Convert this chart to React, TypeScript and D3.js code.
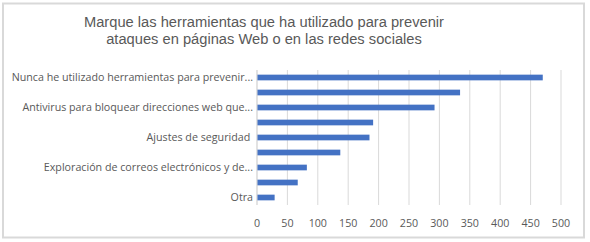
import React from "react";
import * as d3 from "d3";

const categories = [
  "Nunca he utilizado herramientas para prevenir...",
  "Filtros de contenido para navegadores...",
  "Antivirus para bloquear direcciones web que...",
  "Contraseñas seguras",
  "Ajustes de seguridad ",
  "Verificación en dos pasos",
  "Exploración de correos electrónicos y de...",
  "Cortafuegos (firewall)",
  "Otra",
];
const values = [470, 334, 292, 191, 185, 137, 82, 67, 29];
const xTicks = [0, 50, 100, 150, 200, 250, 300, 350, 400, 450, 500];
const titleLines = [
  "Marque las herramientas que ha utilizado para prevenir",
  "ataques en páginas Web o en las redes sociales",
];

const W = 590;
const H = 242;
const margin = { left: 257, right: 29, top: 70, bottom: 37 };

export default function App() {
  const x = d3.scaleLinear().domain([0, 500]).range([margin.left, W - margin.right]);
  const y = d3
    .scaleBand<string>()
    .domain(categories)
    .range([margin.top, H - margin.bottom])
    .paddingInner(0.62)
    .paddingOuter(0.31);
  const labelFont = "'Open Sans', sans-serif";
  return (
    <svg
      width={W}
      height={H}
      style={{ position: "absolute", left: 0, top: 0, background: "#fff" }}
    >
      <rect x={3} y={3.5} width={581} height={234} fill="#fff" stroke="#d9d9d9" strokeWidth={2} />
      {titleLines.map((t, i) => (
        <text
          key={i}
          x={264}
          y={27 + i * 17}
          textAnchor="middle"
          fontFamily="'Liberation Sans', Arial, sans-serif"
          fontSize={14.7}
          fill="#595959"
        >
          {t}
        </text>
      ))}
      {xTicks.map((t) => (
        <g key={t}>
          <line
            x1={x(t)}
            x2={x(t)}
            y1={margin.top}
            y2={H - margin.bottom}
            stroke="#d9d9d9"
            strokeWidth={1}
          />
          <text
            x={x(t)}
            y={227}
            textAnchor="middle"
            fontFamily={labelFont}
            fontSize={10.7}
            fill="#595959"
          >
            {t}
          </text>
        </g>
      ))}
      {categories.map((c, i) => (
        <rect
          key={c}
          x={x(0)}
          y={y(c)!}
          width={x(values[i]) - x(0)}
          height={y.bandwidth()}
          fill="#4472C4"
        />
      ))}
      {categories.map((c, i) =>
        i % 2 === 0 ? (
          <text
            key={c}
            x={margin.left - 4}
            y={y(c)! + y.bandwidth() / 2}
            dy="0.35em"
            textAnchor="end"
            fontFamily={labelFont}
            fontSize={10.7}
            fill="#595959"
            style={{ whiteSpace: "pre" }}
          >
            {c}
          </text>
        ) : null
      )}
      <line x1={x(0)} x2={x(0)} y1={margin.top} y2={H - margin.bottom} stroke="#d9d9d9" />
    </svg>
  );
}
